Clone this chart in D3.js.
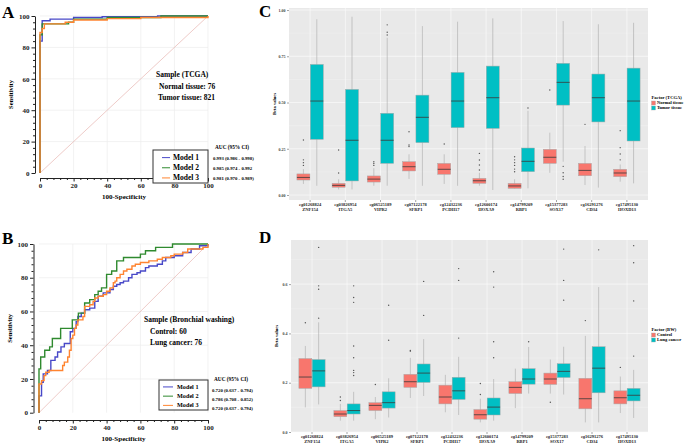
<!DOCTYPE html>
<html>
<head>
<meta charset="utf-8">
<script src="https://cdn.jsdelivr.net/npm/d3@7"></script>
<style>
  body { margin: 0; background: #fff; }
  svg { display: block; }
  text { font-family: "Liberation Serif", "Times New Roman", serif; }
</style>
</head>
<body>
<svg id="fig" width="685" height="445"></svg>
<script>
// ---- ROC data: [100-specificity, sensitivity] step points ----
const rocAModel1 = [[0, 0], [0, 84], [1.3, 97], [6, 98], [20, 99], [37, 99.5], [70, 100], [100, 100]]
const rocAModel2 = [[0, 0], [0, 88], [1.3, 95], [17, 96], [20, 98], [40, 99], [72, 100], [100, 100]]
const rocAModel3 = [[0, 0], [0, 89.5], [1.3, 92], [2.6, 95], [15, 96], [20, 97.5], [40, 98.3], [60, 99], [100, 100]]

const rocBModel1 = [[0, 0], [0, 10], [1.5, 18], [2.5, 23], [5, 25], [7, 31], [9.5, 33], [11, 36], [13, 39], [15, 41],
  [18.5, 48], [20, 50], [22, 54], [23, 57], [25, 59], [27, 61], [30, 62], [33, 66], [35, 69], [38, 71], [42, 73],
  [44, 75], [46, 76], [48, 77], [50, 78], [53, 80], [55, 82], [58, 83], [60, 84], [63, 86], [65, 87], [70, 88],
  [73, 90], [75, 92], [80, 93], [85, 95], [90, 97], [95, 99], [100, 100]]
const rocBModel2 = [[0, 0], [0, 26], [1, 33], [3.4, 37], [6.3, 39], [7.9, 44], [12.8, 50], [19.7, 55], [23.3, 59],
  [27, 65], [30, 67], [33, 70], [35, 72], [37, 74], [40, 82], [43, 84], [46, 90], [50, 92], [60, 94], [63, 96],
  [69, 98], [79, 100], [100, 100]]
const rocBModel3 = [[0, 0], [0, 17], [1.5, 19], [3, 22], [4, 24], [6, 25], [14, 28], [15, 30], [17, 33], [18, 37],
  [19, 44], [20, 46], [21, 50], [22, 52], [23, 55], [26, 57], [27, 63], [30, 64], [32, 66], [33, 68], [35, 69],
  [38, 70], [40, 72], [42, 74], [44, 77], [45, 78], [46, 80], [48, 82], [50, 84], [52, 85], [55, 87], [57, 88],
  [60, 89], [65, 90], [70, 91], [73, 92], [78, 93], [80, 94], [85, 95], [88, 97], [97, 98], [100, 100]]

const modelNames = ['Model 1', 'Model 2', 'Model 3']
const aucA = ['0.993 (0.986 - 0.998)', '0.985 (0.974 - 0.992', '0.981 (0.970 - 0.989)']
const aucB = ['0.720 (0.637 - 0.794)', '0.786 (0.708 - 0.852)', '0.720 (0.637 - 0.794)']
const rocTicks = [0, 20, 40, 60, 80, 100]
const rocMinor = d3.range(0, 101, 4).filter(v => v % 20 !== 0)

// ---- Box plot data: [lower whisker, q1, median, q3, upper whisker] ----
const probes = ['cg01268824', 'cg03826954', 'cg06525189', 'cg07122178', 'cg12432236',
  'cg12600174', 'cg14799209', 'cg15377283', 'cg16291276', 'cg17495130']
const genes = ['ZNF154', 'ITGA5', 'VIPR2', 'SFRP1', 'PCDH17', 'HOXA9', 'RBP1', 'SOX17', 'CD34', 'HOXD13']

const cNormalStats = [[0.06, 0.081, 0.095, 0.114, 0.14], [0.03, 0.042, 0.052, 0.063, 0.085],
  [0.05, 0.07, 0.086, 0.103, 0.145], [0.087, 0.13, 0.153, 0.18, 0.22], [0.06, 0.112, 0.139, 0.171, 0.22],
  [0.05, 0.063, 0.077, 0.09, 0.12], [0.035, 0.036, 0.049, 0.063, 0.085], [0.12, 0.171, 0.204, 0.247, 0.337],
  [0.054, 0.104, 0.133, 0.171, 0.265], [0.072, 0.099, 0.119, 0.139, 0.165]]
const cNormalOut = [[0.297, 0.19, 0.175, 0.16], [0.243, 0.119], [0.18, 0.17, 0.16], [0.342, 0.27, 0.262],
  [0.276], [0.225, 0.189, 0.162, 0.135], [0.207, 0.19, 0.175, 0.16, 0.14, 0.126], [0.568], [0.382],
  [0.348, 0.256, 0.222, 0.19]]
const cTumorStats = [[0.05, 0.301, 0.508, 0.706, 0.95], [0.03, 0.076, 0.296, 0.571, 0.964],
  [0.05, 0.171, 0.296, 0.442, 0.85], [0.05, 0.283, 0.42, 0.54, 0.913], [0.05, 0.364, 0.508, 0.663, 0.937],
  [0.027, 0.36, 0.526, 0.697, 0.955], [0.036, 0.126, 0.182, 0.254, 0.455], [0.18, 0.486, 0.609, 0.712, 0.94],
  [0.04, 0.395, 0.526, 0.654, 0.923], [0.063, 0.292, 0.508, 0.686, 0.931]]
const cTumorOut = [[], [], [0.92, 0.88, 0.865], [], [], [], [0.47], [0.155, 0.12, 0.1, 0.085], [], []]

const dControlStats = [[0.10, 0.177, 0.223, 0.298, 0.349], [0.046, 0.062, 0.073, 0.087, 0.114],
  [0.052, 0.087, 0.108, 0.119, 0.142], [0.138, 0.181, 0.204, 0.234, 0.301], [0.08, 0.114, 0.142, 0.19, 0.232],
  [0.039, 0.052, 0.07, 0.091, 0.135], [0.097, 0.156, 0.181, 0.204, 0.257], [0.156, 0.193, 0.215, 0.239, 0.294],
  [0.039, 0.094, 0.135, 0.218, 0.39], [0.077, 0.114, 0.139, 0.167, 0.225]]
const dControlOut = [[0.443], [0.142, 0.128], [0.193], [0.331, 0.328], [], [0.197, 0.152], [], [0.121],
  [0.452], [0.262]]
const dCancerStats = [[0.112, 0.183, 0.248, 0.294, 0.445], [0.046, 0.073, 0.087, 0.114, 0.163],
  [0.059, 0.097, 0.119, 0.163, 0.218], [0.146, 0.201, 0.239, 0.276, 0.377], [0.069, 0.132, 0.167, 0.222, 0.305],
  [0.046, 0.069, 0.101, 0.138, 0.215], [0.156, 0.194, 0.215, 0.257, 0.345], [0.152, 0.221, 0.246, 0.277, 0.346],
  [0.039, 0.159, 0.259, 0.346, 0.588], [0.057, 0.126, 0.149, 0.177, 0.252]]
const dCancerOut = [[0.749, 0.593, 0.579, 0.462], [0.593, 0.546, 0.526, 0.349, 0.301, 0.25, 0.241, 0.229],
  [0.514, 0.372], [0.611, 0.473], [0.663, 0.615, 0.381], [0.65, 0.588, 0.366, 0.301], [0.366],
  [0.742, 0.615, 0.535], [0.739], [0.756, 0.687, 0.532, 0.308]]

const modelColors = ['#4848c8', '#2f8a2f', '#ff8430']
const boxColors = ['#F8766D', '#00BFC4']

const svg = d3.select('#fig')

function panelLetter (txt, x, y) {
  svg.append('text').attr('x', x).attr('y', y)
    .attr('font-size', 17).attr('font-weight', 'bold').text(txt)
}

function drawRoc (p) {
  const x = d3.scaleLinear().domain([0, 100]).range([p.x0, p.x1])
  const y = d3.scaleLinear().domain([0, 100]).range([p.y0, p.y1])
  const g = svg.append('g')

  // faint grid
  g.selectAll('.gv').data(rocTicks.slice(1)).join('line')
    .attr('x1', d => x(d)).attr('x2', d => x(d)).attr('y1', y(0)).attr('y2', y(100))
    .attr('stroke', '#ececec').attr('stroke-width', 0.7)
  g.selectAll('.gh').data(rocTicks.slice(1)).join('line')
    .attr('x1', x(0)).attr('x2', x(100)).attr('y1', d => y(d)).attr('y2', d => y(d))
    .attr('stroke', '#ececec').attr('stroke-width', 0.7)

  g.append('line')
    .attr('x1', x(0)).attr('y1', y(0)).attr('x2', x(100)).attr('y2', y(100))
    .attr('stroke', '#e6b4b0').attr('stroke-width', 0.7)

  const line = d3.line().x(d => x(d[0])).y(d => y(d[1])).curve(d3.curveStepAfter)
  p.curves.forEach((c, i) => {
    g.append('path').attr('d', line(c)).attr('fill', 'none')
      .attr('stroke', modelColors[i]).attr('stroke-width', 1.4)
  })

  // axes (offset, MedCalc style)
  const styleAxis = a => {
    a.selectAll('path, line').attr('stroke', '#222').attr('stroke-width', 1)
    a.selectAll('text').attr('font-family', '"Liberation Serif", serif')
      .attr('font-weight', 'bold').attr('font-size', 7).attr('fill', '#222')
  }
  svg.append('g').attr('transform', `translate(${p.axisX},0)`)
    .call(d3.axisLeft(y).tickValues(rocTicks).tickSize(3.5).tickSizeOuter(0).tickPadding(2))
    .call(styleAxis)
  svg.append('g').attr('transform', `translate(${p.axisX},0)`)
    .call(d3.axisLeft(y).tickValues(rocMinor).tickSize(2).tickFormat(''))
    .call(styleAxis).select('.domain').remove()
  svg.append('g').attr('transform', `translate(0,${p.axisY})`)
    .call(d3.axisBottom(x).tickValues(rocTicks).tickSize(3.5).tickSizeOuter(0).tickPadding(2))
    .call(styleAxis)
  svg.append('g').attr('transform', `translate(0,${p.axisY})`)
    .call(d3.axisBottom(x).tickValues(rocMinor).tickSize(2).tickFormat(''))
    .call(styleAxis).select('.domain').remove()

  svg.append('text').attr('x', (p.x0 + p.x1) / 2).attr('y', p.axisY + 21)
    .attr('text-anchor', 'middle').attr('font-size', 7).attr('font-weight', 'bold').text('100-Specificity')
  svg.append('text').attr('transform', `translate(${p.axisX - 22},${(p.y0 + p.y1) / 2}) rotate(-90)`)
    .attr('text-anchor', 'middle').attr('font-size', 6.5).attr('font-weight', 'bold').text('Sensitivity')

  // sample info
  p.info.forEach((t, i) => {
    svg.append('text').attr('x', p.infoX[i]).attr('y', p.infoY[i])
      .attr('font-size', 7.5).attr('font-weight', 'bold').text(t)
  })

  // legend box
  const L = p.legend
  svg.append('rect').attr('x', L.x).attr('y', L.y).attr('width', L.w).attr('height', L.h)
    .attr('fill', '#fff').attr('stroke', '#333').attr('stroke-width', 1)
  modelNames.forEach((m, i) => {
    const yy = L.y + L.h * (i + 0.75) / 3.25
    svg.append('line').attr('x1', L.x + L.l0).attr('x2', L.x + L.l1).attr('y1', yy).attr('y2', yy)
      .attr('stroke', modelColors[i]).attr('stroke-width', 1)
    svg.append('text').attr('x', L.x + L.tx).attr('y', yy + L.fs * 0.33)
      .attr('font-size', L.fs).attr('font-weight', 'bold').text(m)
  })

  // AUC column
  svg.append('text').attr('x', p.aucX + 2).attr('y', p.aucY[0])
    .attr('font-size', 5.3).attr('font-weight', 'bold').text('AUC (95% CI)')
  p.auc.forEach((t, i) => {
    svg.append('text').attr('x', p.aucX).attr('y', p.aucY[i + 1])
      .attr('font-size', 4.8).attr('font-weight', 'bold').text(t)
  })
}

function drawBoxes (p) {
  const x = d3.scaleBand().domain(probes).range([p.left, p.right]).paddingInner(0).paddingOuter(0.1)
  const y = d3.scaleLinear().domain(p.yDomain).range([p.bottom, p.top])
  const g = svg.append('g')

  g.append('rect').attr('x', p.left).attr('y', p.top)
    .attr('width', p.right - p.left).attr('height', p.bottom - p.top).attr('fill', '#e9e9e9')
  g.selectAll('.mi').data(p.minor).join('line')
    .attr('x1', p.left).attr('x2', p.right).attr('y1', d => y(d)).attr('y2', d => y(d))
    .attr('stroke', '#f4f4f4').attr('stroke-width', 0.4)
  g.selectAll('.ma').data(p.ticks).join('line')
    .attr('x1', p.left).attr('x2', p.right).attr('y1', d => y(d)).attr('y2', d => y(d))
    .attr('stroke', '#fafafa').attr('stroke-width', 0.7)
  g.selectAll('.mv').data(probes).join('line')
    .attr('x1', d => x(d) + x.bandwidth() / 2).attr('x2', d => x(d) + x.bandwidth() / 2)
    .attr('y1', p.top).attr('y2', p.bottom)
    .attr('stroke', '#fafafa').attr('stroke-width', 0.7)

  const groups = [{ stats: p.aStats, out: p.aOut, off: -1 }, { stats: p.bStats, out: p.bOut, off: 1 }]
  const w = x.step() * 0.37
  probes.forEach((pr, i) => {
    groups.forEach((grp, k) => {
      const s = grp.stats[i]
      const cx = x(pr) + x.bandwidth() / 2 + grp.off * x.step() * 0.19
      g.append('line').attr('x1', cx).attr('x2', cx).attr('y1', y(s[0])).attr('y2', y(s[4]))
        .attr('stroke', '#aaaaaa').attr('stroke-width', 0.6)
      g.append('rect').attr('x', cx - w / 2).attr('width', w)
        .attr('y', y(s[3])).attr('height', y(s[1]) - y(s[3]))
        .attr('fill', boxColors[k]).attr('stroke', '#a9a9a9').attr('stroke-width', 0.5)
      g.append('line').attr('x1', cx - w / 2).attr('x2', cx + w / 2).attr('y1', y(s[2])).attr('y2', y(s[2]))
        .attr('stroke', '#3a3a3a').attr('stroke-width', 0.8)
      g.selectAll(null).data(grp.out[i]).join('circle')
        .attr('cx', cx).attr('cy', d => y(d)).attr('r', 0.7).attr('fill', '#555')
    })
  })

  // y axis
  const ya = svg.append('g').attr('transform', `translate(${p.left},0)`)
    .call(d3.axisLeft(y).tickValues(p.ticks).tickFormat(d3.format(p.fmt)).tickSize(2).tickPadding(1.5))
  ya.select('.domain').remove()
  ya.selectAll('line').attr('stroke', '#444').attr('stroke-width', 0.5)
  ya.selectAll('text').attr('font-size', 4).attr('font-weight', 'bold').attr('fill', '#444')
    .attr('font-family', '"Liberation Serif", serif')

  // x axis
  const xa = svg.append('g').attr('transform', `translate(0,${p.bottom})`)
    .call(d3.axisBottom(x).tickSize(2).tickFormat(''))
  xa.select('.domain').remove()
  xa.selectAll('line').attr('stroke', '#444').attr('stroke-width', 0.5)
  probes.forEach((pr, i) => {
    const cx = x(pr) + x.bandwidth() / 2
    const t = svg.append('text').attr('x', cx).attr('y', p.bottom + 5.5)
      .attr('text-anchor', 'middle').attr('font-size', 4.5).attr('font-weight', 'bold').attr('fill', '#222')
    t.append('tspan').attr('x', cx).text(pr)
    t.append('tspan').attr('x', cx).attr('dy', 5).text(genes[i])
  })

  svg.append('text').attr('transform', `translate(${p.left - 13},${(p.top + p.bottom) / 2}) rotate(-90)`)
    .attr('text-anchor', 'middle').attr('font-size', 4.5).attr('font-weight', 'bold').text('Beta values')

  // legend
  const lx = p.right + 3.5
  svg.append('text').attr('x', lx).attr('y', p.legY).attr('font-size', 4.6).attr('font-weight', 'bold')
    .text(p.legTitle)
  p.legKeys.forEach((k, i) => {
    const yy = p.legY + 2 + i * 5
    svg.append('rect').attr('x', lx).attr('y', yy).attr('width', 4).attr('height', 4)
      .attr('fill', boxColors[i]).attr('stroke', '#aaa').attr('stroke-width', 0.4)
    svg.append('text').attr('x', lx + 5.5).attr('y', yy + 3.4).attr('font-size', 4.5).attr('font-weight', 'bold')
      .text(k)
  })
}

panelLetter('A', 2, 18)
panelLetter('B', 2, 244)
panelLetter('C', 259, 17)
panelLetter('D', 259, 243)

drawRoc({
  x0: 40, x1: 208, y0: 173, y1: 16, axisX: 35, axisY: 178,
  curves: [rocAModel1, rocAModel2, rocAModel3],
  info: ['Sample (TCGA)', 'Normal tissue: 76', 'Tumor tissue: 821'],
  infoX: [156, 159, 158], infoY: [77, 89, 100],
  legend: { x: 153, y: 150, w: 55, h: 33, l0: 9, l1: 17, tx: 20, fs: 7.5 },
  aucX: 213, aucY: [148.5, 159.5, 169.5, 180], auc: aucA
})

drawRoc({
  x0: 39, x1: 208, y0: 412.7, y1: 244, axisX: 33.5, axisY: 420,
  curves: [rocBModel1, rocBModel2, rocBModel3],
  info: ['Sample (Bronchial washing)', 'Control: 60', 'Lung cancer: 76'],
  infoX: [144, 150, 150], infoY: [322, 334, 345],
  legend: { x: 159, y: 380, w: 49, h: 30, l0: 4, l1: 14, tx: 18, fs: 6.2 },
  aucX: 212, aucY: [381, 391.5, 400.5, 409.5], auc: aucB
})

drawBoxes({
  left: 289, right: 648, top: 8, bottom: 200,
  yDomain: [-0.027, 1.011], ticks: [0, 0.25, 0.5, 0.75, 1], minor: [0.125, 0.375, 0.625, 0.875], fmt: '.2f',
  aStats: cNormalStats, aOut: cNormalOut, bStats: cTumorStats, bOut: cTumorOut,
  legTitle: 'Factor (TCGA)', legKeys: ['Normal tissue', 'Tumor tissue'], legY: 99
})

drawBoxes({
  left: 291, right: 648, top: 240, bottom: 432,
  yDomain: [0, 0.779], ticks: [0, 0.2, 0.4, 0.6], minor: [0.1, 0.3, 0.5, 0.7], fmt: '.1f',
  aStats: dControlStats, aOut: dControlOut, bStats: dCancerStats, bOut: dCancerOut,
  legTitle: 'Factor (BW)', legKeys: ['Control', 'Lung cancer'], legY: 331
})
</script>
</body>
</html>
